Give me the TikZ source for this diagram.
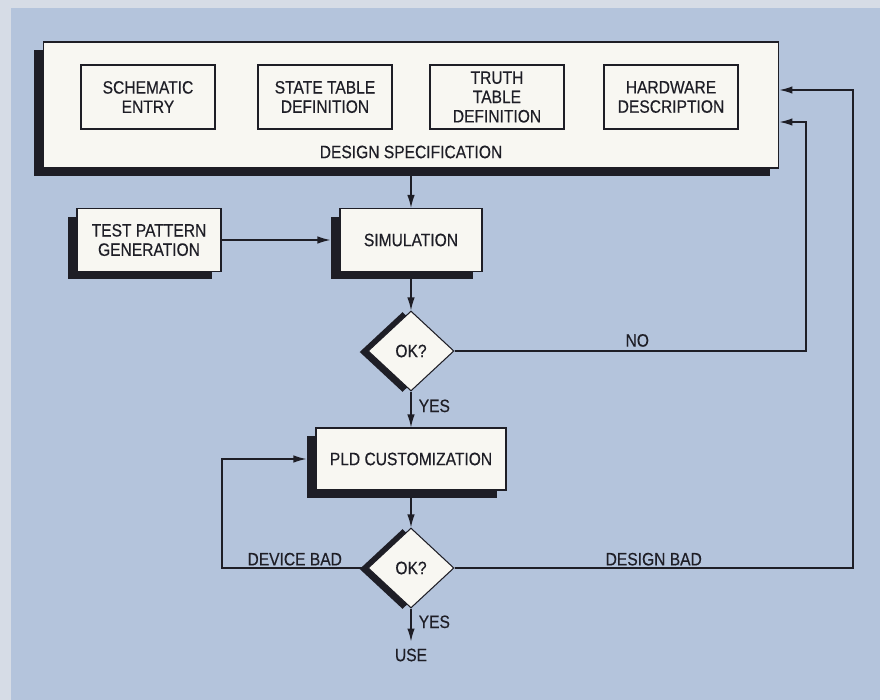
\documentclass[tikz,border=0pt]{standalone}
\usepackage{fontspec}
\setmainfont[FakeStretch=0.87, FakeBold=0.4]{Liberation Sans}
\usetikzlibrary{arrows.meta,shapes.geometric,shadows}
\definecolor{paper}{HTML}{B4C4DC}
\definecolor{margin}{HTML}{D6DCE6}
\definecolor{card}{HTML}{F8F7F2}
\definecolor{ink}{HTML}{1E1E26}
\tikzset{
  box/.style={rectangle, draw=ink, line width=0.6pt, fill=card, align=center, inner sep=0pt,
    drop shadow={shadow xshift=-0.18cm, shadow yshift=-0.16cm, fill=ink, opacity=1}},
  inbox/.style={rectangle, draw=ink, line width=0.7pt, fill=card, align=center,
    minimum width=2.68cm, minimum height=1.28cm, inner sep=0pt},
  dec/.style={diamond, draw=ink, line width=0.6pt, fill=card, minimum width=1.72cm, minimum height=1.6cm, inner sep=0pt,
    drop shadow={shadow xshift=-0.17cm, shadow yshift=-0.02cm, fill=ink, opacity=1}},
  ln/.style={draw=ink, line width=0.8pt},
  arr/.style={ln, -{Latex[length=2.6mm, width=1.5mm]}},
  lbl/.style={text=ink, inner sep=1pt},
}

\begin{document}
\begin{tikzpicture}[x=0.02cm, y=-0.02cm, font=\fontsize{10.2}{11}\selectfont, text=ink]
\useasboundingbox (0,0) rectangle (880,700);
\fill[margin] (0,0) rectangle (880,700);
\fill[paper] (11,8) rectangle (880,700);

% ---------------- design specification ----------------
\node[box, minimum width=14.72cm, minimum height=2.52cm] (spec) at (411,105) {};
\node[inbox] (schem) at (148,97) {SCHEMATIC\\ENTRY};
\node[inbox] (state) at (325,97) {STATE TABLE\\DEFINITION};
\node[inbox] (truth) at (497,97) {TRUTH\\TABLE\\DEFINITION};
\node[inbox] (hdl) at (671,97) {HARDWARE\\DESCRIPTION};
\node[lbl] (specLbl) at (411,152) {DESIGN SPECIFICATION};

% ---------------- simulation ----------------
\node[box, minimum width=2.88cm, minimum height=1.26cm] (test) at (149,240) {TEST PATTERN\\GENERATION};
\node[box, minimum width=2.84cm, minimum height=1.26cm] (sim) at (411,240) {SIMULATION};
\node[dec] (ok1) at (411,351) {OK?};
\draw[arr] (spec) -- (sim);
\draw[arr, shorten >=0.18cm] (test) -- (sim);
\draw[arr] (sim) -- (ok1);
\coordinate (noRt) at (806,122);
\draw[arr] (ok1.east) -| node[lbl, pos=0.26, above=1pt]{NO} (noRt) -- (spec.east |- noRt);

% ---------------- programming ----------------
\node[box, minimum width=3.8cm, minimum height=1.24cm] (pld) at (411,459) {PLD CUSTOMIZATION};
\node[dec] (ok2) at (411,568) {OK?};
\node[lbl] (use) at (411,655) {USE};
\draw[arr] (ok1) -- node[lbl, pos=0.4, right=3pt]{YES} (pld);
\draw[arr] (pld) -- (ok2);
\draw[arr, shorten >=0.1cm] (ok2) -- node[lbl, pos=0.35, right=3pt]{YES} (use);
\coordinate (devLf) at (222,568);
\draw[arr, shorten >=0.18cm] (ok2.west) -- node[lbl, above]{DEVICE BAD} (devLf) |- (pld.west);
\coordinate (badRt) at (853,90);
\draw[arr] (ok2.east) -| node[lbl, pos=0.25, above]{DESIGN BAD} (badRt) -- (spec.east |- badRt);
\end{tikzpicture}
\end{document}
